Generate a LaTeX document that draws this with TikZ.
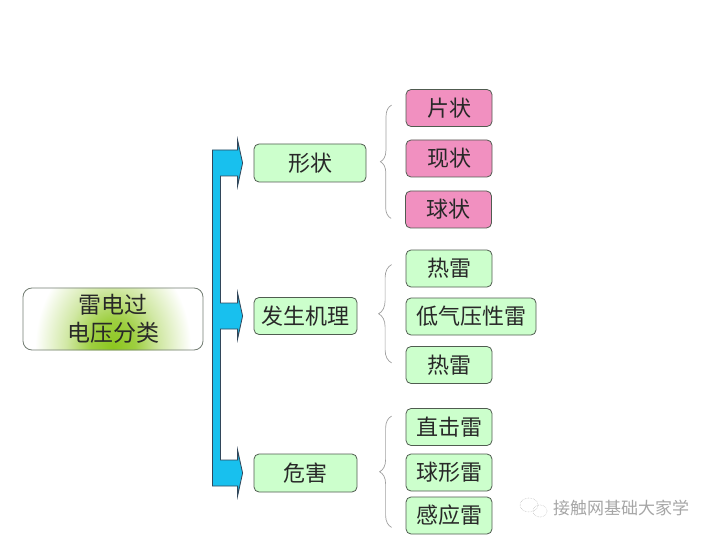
\documentclass[tikz,border=0pt]{standalone}
\usepackage{fontspec}
\newfontfamily\cjk{Noto Sans CJK SC}
\usetikzlibrary{calc,decorations.pathreplacing,backgrounds}
\definecolor{boxgreen}{RGB}{204,255,204}
\definecolor{boxpink}{RGB}{241,144,192}
\definecolor{boxline}{RGB}{80,92,80}
\definecolor{txt}{RGB}{40,40,40}
\definecolor{busblue}{RGB}{24,192,238}
\definecolor{busline}{RGB}{50,70,90}
\definecolor{mid}{RGB}{140,198,30}
\pgfdeclareradialshading{glow}{\pgfpoint{0bp}{0bp}}{%
  color(0bp)=(mid); color(7bp)=(mid!85!white); color(15bp)=(mid!40!white);
  color(25bp)=(white); color(50bp)=(white)}
\begin{document}
\begin{tikzpicture}[x=1pt,y=-1pt,
  base/.style={draw=boxline, line width=0.8pt, rounded corners=5pt, inner sep=0pt,
    text=txt, font=\cjk\fontsize{22}{26}\selectfont},
  lvtwo/.style={base, fill=boxgreen},
  lvgreen/.style={base, fill=boxgreen, minimum width=86pt, minimum height=37pt},
  lvpink/.style={base, fill=boxpink, minimum width=86pt, minimum height=37pt},
  mainbox/.style={draw=boxline!80, line width=0.8pt, rounded corners=9pt, inner sep=0pt,
    text=txt, align=center,
    font=\cjk\fontsize{23}{28}\selectfont, minimum width=180pt, minimum height=62pt},
  bus/.style={fill=busblue, draw=busline, line width=0.8pt, line join=miter},
  bracestyle/.style={draw=gray!75, line width=0.7pt, decorate,
    decoration={brace, amplitude=11pt}},
  wmark/.style={text=gray!70, font=\cjk\fontsize{17}{20}\selectfont, inner sep=0pt}
]
\useasboundingbox (0,0) rectangle (720,540);

% main node
\node[mainbox] (main) at (113,319) {雷电过\\电压分类};
\begin{scope}[on background layer]
  \clip[rounded corners=9pt] (main.south west) rectangle (main.north east);
  \fill[white] (main.south west) rectangle (main.north east);
  \shade[shading=glow] ($(main.south)+(0,-2)$) ellipse [x radius=78, y radius=100];
\end{scope}

% level two
\node[lvtwo, minimum width=112pt, minimum height=38pt] (s1) at (310,163) {形状};
\node[lvtwo, minimum width=103pt, minimum height=37pt] (s2) at (305.5,316) {发生机理};
\node[lvtwo, minimum width=103pt, minimum height=38pt] (s3) at (305.5,473) {危害};

% level three
\node[lvpink] (c1) at (449,108) {片状};
\node[lvpink] (c2) at (449,158.5) {现状};
\node[lvpink] (c3) at (448.5,209.5) {球状};
\node[lvgreen] (c4) at (449,268.5) {热雷};
\node[lvgreen, minimum width=130pt] (c5) at (471,316.5) {低气压性雷};
\node[lvgreen] (c6) at (449,365) {热雷};
\node[lvgreen] (c7) at (449,427) {直击雷};
\node[lvgreen] (c8) at (449,472.5) {球形雷};
\node[lvgreen] (c9) at (449,515.5) {感应雷};

% bus connector
\coordinate (bx) at ($(main.east)+(9,0)$);
\coordinate (ix) at ($(main.east)+(17,0)$);
\foreach \i in {1,2,3}{
  \coordinate (t\i) at ($(s\i.west)+(-11,0)$);
  \coordinate (a\i) at ($(t\i)+(-5,-13)$);
  \coordinate (b\i) at ($(t\i)+(-5,13)$);
  \coordinate (ha\i) at ($(t\i)+(-5,-23)$);
  \coordinate (hb\i) at ($(t\i)+(-5,23)$);
}
\draw[bus] (bx |- a1) -- (a1) -- (ha1) -- (t1) -- (hb1) -- (b1) -- (ix |- b1)
  -- (ix |- a2) -- (a2) -- (ha2) -- (t2) -- (hb2) -- (b2) -- (ix |- b2)
  -- (ix |- a3) -- (a3) -- (ha3) -- (t3) -- (hb3) -- (b3) -- (bx |- b3) -- cycle;

% braces
\draw[bracestyle] ($(c3.south west)+(-14,-10)$) -- ($(c1.north west)+(-14,16)$);
\draw[bracestyle, decoration={amplitude=13pt}] ($(c6.south west)+(-14,-21)$) -- ($(c4.north west)+(-14,15)$);
\draw[bracestyle, decoration={amplitude=12pt}] ($(c9.south west)+(-14,-7)$) -- ($(c7.north west)+(-14,8)$);

% watermark
\draw[gray!45, line width=0.6pt, densely dotted] (529,505) ellipse [x radius=9, y radius=7];
\draw[gray!45, line width=0.6pt, densely dotted] (540,511) ellipse [x radius=7, y radius=6];
\node[wmark, anchor=west] (wm) at (553,508) {接触网基础大家学};
\end{tikzpicture}
\end{document}
